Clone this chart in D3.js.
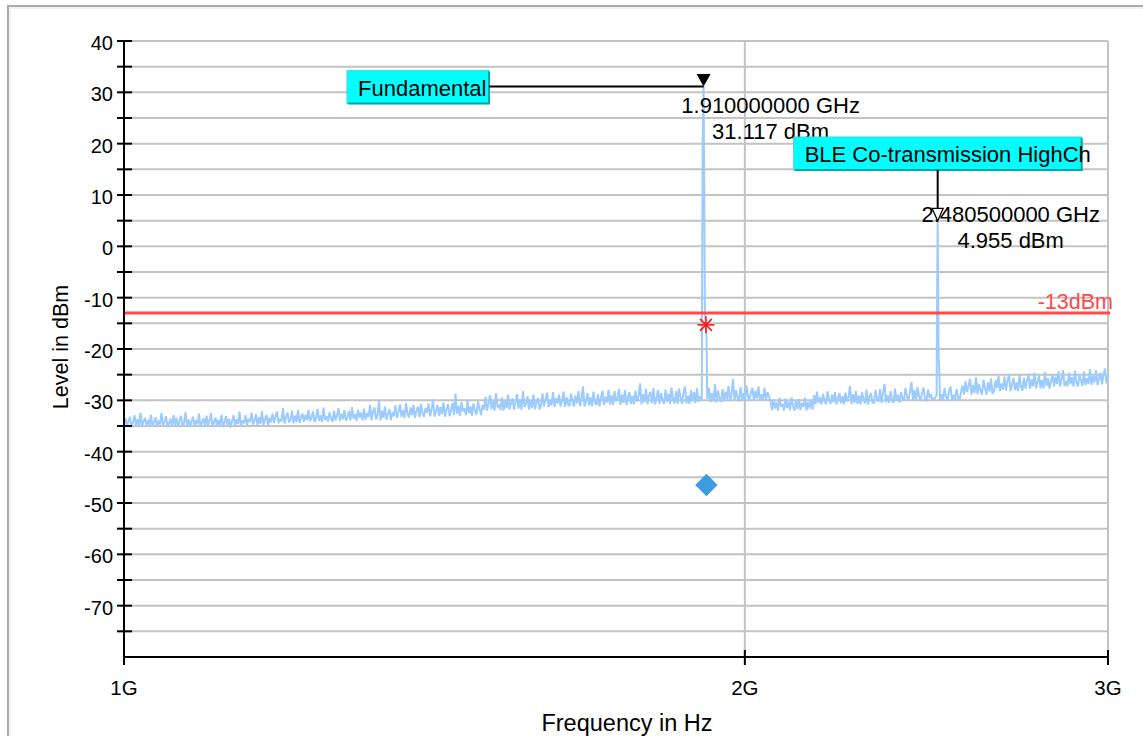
<!DOCTYPE html>
<html>
<head>
<meta charset="utf-8">
<script src="https://cdn.jsdelivr.net/npm/d3@7"></script>
<style>
  html, body { margin: 0; padding: 0; background: #fff; }
  svg { display: block; font-family: "Liberation Sans", Arial, Helvetica, sans-serif; }
</style>
</head>
<body>
<svg id="chart" width="1143" height="736"></svg>
<script>
// ---- Sweep settings (Hz) ----
const sweepStartHz = 1e9;
const sweepStopHz = 3e9;

// ---- Trace: noise floor levels (dBm), one per sweep point ----
const noiseFloorDbm = [
  -34.6, -33.5, -35.1, -34.0, -33.2, -35.2, -34.4, -32.9, -35.0, -33.7, -34.8, -32.4, -35.2, -34.1, -33.4, -35.0, -33.8, -34.9, -32.8, -35.1,
  -34.3, -33.3, -35.2, -33.9, -34.7, -32.5, -35.0, -34.2, -33.1, -35.2, -34.5, -33.6, -35.1, -32.9, -34.8, -33.4, -35.2, -34.0, -33.0, -35.1,
  -34.6, -32.3, -34.9, -33.7, -35.2, -34.1, -33.2, -35.0, -33.9, -34.7, -32.6, -35.2, -34.3, -33.5, -35.1, -33.0, -34.8, -34.0, -32.5, -35.2,
  -34.2, -33.4, -35.1, -33.8, -34.9, -32.8, -35.2, -34.3, -33.1, -34.8, -33.6, -35.3, -34.0, -32.9, -35.0, -33.7, -34.6, -32.2, -35.2, -33.9,
  -34.5, -32.9, -34.9, -33.6, -34.2, -32.4, -34.8, -33.9, -32.7, -34.9, -33.3, -34.6, -32.1, -34.8, -33.7, -32.8, -34.9, -33.4, -34.3, -32.6,
  -34.4, -33.1, -32.2, -34.5, -33.6, -34.1, -31.5, -34.5, -33.2, -32.4, -34.3, -33.8, -32.0, -34.5, -33.0, -34.2, -31.9, -34.4, -33.5, -32.6,
  -34.2, -32.8, -33.9, -31.8, -34.1, -33.3, -32.2, -34.2, -33.6, -31.7, -34.0, -32.9, -34.2, -31.4, -33.8, -33.1, -34.1, -32.3, -33.5, -34.2,
  -32.0, -33.9, -33.0, -31.5, -34.0, -32.6, -33.7, -31.9, -34.0, -33.2, -32.1, -33.9, -31.3, -33.6, -32.7, -34.0, -31.8, -33.4, -32.4, -33.9,
  -31.6, -33.8, -32.5, -33.2, -30.9, -33.9, -32.2, -31.4, -33.7, -32.8, -30.1, -33.9, -32.0, -33.4, -31.2, -33.8, -32.6, -31.7, -33.9, -32.3,
  -33.1, -31.0, -33.4, -32.3, -30.8, -33.2, -31.9, -33.4, -30.5, -32.7, -33.3, -31.4, -32.9, -30.9, -33.4, -32.1, -31.2, -33.3, -30.7, -32.6,
  -33.2, -31.5, -32.4, -30.6, -33.1, -31.9, -29.8, -33.2, -32.2, -30.9, -33.0, -31.3, -32.7, -30.4, -33.2, -31.8, -30.7, -33.1, -32.0, -30.5,
  -32.9, -28.7, -32.6, -31.1, -33.0, -30.3, -32.2, -31.6, -32.9, -30.0, -32.5, -31.2, -33.0, -30.6, -32.1, -32.8, -30.2, -31.7, -32.9, -30.9,
  -31.8, -29.3, -32.0, -30.6, -29.0, -31.7, -30.2, -32.0, -28.6, -31.4, -30.8, -31.9, -29.4, -32.0, -30.1, -31.5, -28.9, -31.8, -30.5, -29.6,
  -31.8, -30.4, -28.8, -31.6, -29.9, -31.8, -28.2, -31.3, -30.7, -29.2, -31.8, -30.0, -31.5, -28.9, -31.7, -30.3, -29.5, -31.8, -30.9, -28.7,
  -31.2, -29.8, -28.5, -31.3, -30.2, -31.0, -28.4, -31.3, -29.6, -30.6, -28.9, -31.2, -30.0, -28.3, -31.3, -29.4, -30.8, -31.1, -28.7, -30.3,
  -31.2, -29.1, -30.6, -28.2, -31.1, -29.7, -27.3, -31.2, -30.1, -28.6, -31.0, -29.4, -31.2, -28.3, -30.5, -30.9, -28.8, -31.2, -29.5, -28.1,
  -30.9, -29.3, -30.4, -27.9, -30.8, -29.0, -30.9, -28.2, -30.1, -29.6, -27.7, -30.9, -28.9, -30.5, -28.0, -30.9, -29.4, -28.4, -30.7, -29.1,
  -30.8, -28.1, -30.2, -29.3, -26.7, -30.8, -28.8, -30.4, -27.8, -30.8, -29.0, -28.3, -30.6, -27.6, -30.8, -29.5, -28.0, -30.7, -28.6, -29.9,
  -30.7, -27.9, -30.3, -28.7, -30.7, -27.5, -29.8, -30.6, -28.2, -30.7, -27.7, -29.4, -30.7, -28.5, -27.3, -30.6, -29.1, -30.7, -28.0, -30.2,
  -28.4, -30.5, -27.6, -30.3, -29.2, -30.0, -29.6, -29.8, -30.1, -29.7, -27.5, -30.4, -28.6, -30.2, -26.9, -30.4, -28.1, -29.6, -30.3, -27.8,
  -30.2, -28.3, -29.7, -27.2, -30.2, -28.9, -25.8, -30.1, -28.0, -29.5, -30.2, -27.4, -29.9, -28.6, -30.2, -27.1, -29.3, -30.0, -28.4, -27.6,
  -30.1, -28.1, -29.6, -27.3, -30.1, -28.8, -29.9, -27.5, -30.0, -28.4, -29.2, -30.1, -31.9, -29.8, -31.6, -30.4, -32.0, -29.5, -31.2, -30.7,
  -32.0, -29.6, -31.5, -30.2, -31.9, -29.4, -31.0, -32.0, -30.0, -31.7, -29.7, -31.9, -30.5, -31.3, -29.5, -32.0, -30.3, -31.6, -29.9, -31.8,
  -29.0, -30.8, -28.3, -30.5, -29.4, -30.8, -28.7, -30.1, -30.8, -28.2, -29.8, -30.7, -28.9, -30.4, -28.4, -30.8, -29.6, -28.6, -30.6, -29.2,
  -30.8, -28.5, -30.2, -29.4, -27.2, -30.8, -28.8, -30.5, -28.2, -30.7, -29.1, -30.8, -28.4, -29.8, -30.6, -27.9, -30.8, -29.3, -28.6, -30.4,
  -30.5, -28.0, -29.6, -30.3, -27.8, -30.5, -28.7, -26.8, -30.4, -29.0, -30.5, -28.2, -29.9, -30.5, -27.7, -30.1, -28.9, -30.5, -28.4, -29.5,
  -30.0, -27.6, -29.4, -30.0, -28.3, -26.4, -29.9, -28.0, -30.0, -27.4, -29.2, -30.0, -28.6, -27.5, -29.8, -30.0, -27.9, -29.5, -28.8, -30.0,
  -29.7, -29.4, -29.6, -29.8, -29.9, -28.8, -30.0, -27.6, -29.4, -30.0, -28.2, -27.3, -29.9, -28.9, -30.0, -27.8, -29.5, -30.0, -28.4, -27.1,
  -28.9, -26.3, -28.4, -27.2, -25.8, -28.9, -27.0, -28.6, -25.5, -28.8, -26.8, -28.1, -28.9, -26.0, -27.6, -28.9, -26.5, -28.3, -25.7, -28.7,
  -28.2, -26.1, -27.6, -25.2, -28.2, -26.7, -27.9, -25.4, -28.1, -26.3, -24.9, -28.2, -27.0, -25.6, -28.0, -26.5, -28.2, -25.1, -27.4, -28.1,
  -25.6, -27.7, -26.2, -24.8, -27.7, -25.9, -27.3, -24.6, -27.7, -26.4, -25.1, -27.6, -26.0, -27.7, -24.5, -27.2, -25.7, -27.7, -26.3, -24.9,
  -27.3, -25.4, -26.8, -24.3, -27.3, -25.9, -24.1, -27.2, -26.2, -27.3, -24.6, -26.9, -25.5, -27.3, -24.2, -26.6, -27.3, -25.0, -26.1, -27.2,
  -24.4, -27.0, -25.7, -26.8, -23.9, -27.0, -25.3, -26.5, -24.1, -27.0, -25.8, -24.6, -26.9, -25.1, -23.8, -26.7, -25.4
];

// ---- Trace: carrier peaks [Hz, dBm] ----
const fundamentalPeak = [
  [1.9062e9, -29.8], [1.9068e9, -10.0], [1.9080e9, 20.0], [1.9100e9, 31.117],
  [1.9115e9, 10.0], [1.9128e9, -13.0], [1.9140e9, -14.8], [1.9152e9, -15.6],
  [1.9162e9, -18.0], [1.9170e9, -23.0], [1.9176e9, -29.5]
];
const bleHighChPeak = [
  [2.4775e9, -29.0], [2.4790e9, -8.0], [2.4805e9, 4.955], [2.4818e9, -8.0],
  [2.4830e9, -21.5], [2.4845e9, -23.0], [2.4858e9, -26.0], [2.4866e9, -29.5]
];

// ---- Limit line ----
const limitLevelDbm = -13;
const limitLabel = "-13dBm";

// ---- Markers ----
const markerNames = ["Fundamental", "BLE Co-transmission HighCh"];
const markerFreqHz = [1.91e9, 2.4805e9];
const markerLevelDbm = [31.117, 4.955];
const markerFreqText = ["1.910000000 GHz", "2.480500000 GHz"];
const markerLevelText = ["31.117 dBm", "4.955 dBm"];

// ---- Limit-check result and measured point ----
const limitHit = [1.915e9, -15.3];
const measuredPoint = [1.916e9, -46.5];

// ---- Axes ----
const xTickValues = [1e9, 2e9, 3e9];
const xTickLabels = ["1G", "2G", "3G"];
const yTickValues = [40, 30, 20, 10, 0, -10, -20, -30, -40, -50, -60, -70];
const yTickLabels = ["40", "30", "20", "10", "0", "-10", "-20", "-30", "-40", "-50", "-60", "-70"];
const xTitle = "Frequency in Hz";
const yTitle = "Level in dBm";

// ================= drawing =================
const svg = d3.select("#chart");
const plot = { left: 124, right: 1108, top: 41, bottom: 657 };

const x = d3.scaleLog().domain([sweepStartHz, sweepStopHz]).range([plot.left, plot.right]);
const y = d3.scaleLinear().domain([-80, 40]).range([plot.bottom, plot.top]);

// outer frame
svg.append("rect")
  .attr("x", 8).attr("y", 6).attr("width", 1150).attr("height", 750)
  .attr("fill", "none").attr("stroke", "#ababab").attr("stroke-width", 2);
svg.append("rect")
  .attr("x", 10).attr("y", 8).attr("width", 1150).attr("height", 750)
  .attr("fill", "none").attr("stroke", "#e6e6e6").attr("stroke-width", 1);

// grid
const gridLevels = d3.range(-75, 40.1, 5);
svg.append("g").selectAll("line").data(gridLevels).join("line")
  .attr("x1", plot.left).attr("x2", plot.right)
  .attr("y1", d => y(d)).attr("y2", d => y(d))
  .attr("stroke", "#c3c3c3").attr("stroke-width", 2);
svg.append("g").selectAll("line").data(xTickValues.slice(1)).join("line")
  .attr("x1", d => x(d)).attr("x2", d => x(d))
  .attr("y1", plot.top).attr("y2", plot.bottom)
  .attr("stroke", "#c3c3c3").attr("stroke-width", 2);

// trace
const nPts = noiseFloorDbm.length;
const ratio = sweepStopHz / sweepStartHz;
const noisePts = noiseFloorDbm.map((v, i) => [sweepStartHz * Math.pow(ratio, i / (nPts - 1)), v]);
const peaks = [fundamentalPeak, bleHighChPeak];
const inPeak = f => peaks.some(p => f >= p[0][0] && f <= p[p.length - 1][0]);
const trace = noisePts.filter(d => !inPeak(d[0])).concat(...peaks).sort((a, b) => a[0] - b[0]);

svg.append("path")
  .datum(trace)
  .attr("fill", "none")
  .attr("stroke", "#9ccbff")
  .attr("stroke-width", 2)
  .attr("stroke-linejoin", "miter")
  .attr("stroke-miterlimit", 2)
  .attr("d", d3.line().x(d => x(d[0])).y(d => y(d[1])));

// limit line
svg.append("line")
  .attr("x1", plot.left).attr("x2", plot.right + 2)
  .attr("y1", y(limitLevelDbm)).attr("y2", y(limitLevelDbm))
  .attr("stroke", "#ff4a4a").attr("stroke-width", 3);
svg.append("text")
  .attr("x", plot.right + 5).attr("y", y(limitLevelDbm) - 4)
  .attr("text-anchor", "end")
  .attr("font-size", 21.5).attr("fill", "#ff4a4a")
  .text(limitLabel);

// limit-hit asterisk
(function () {
  const cx = x(limitHit[0]), cy = y(limitHit[1]), r = 8.5;
  const g = svg.append("g").attr("stroke", "#ff1a1a").attr("stroke-width", 1.6);
  [0, 45, 90, 135].forEach(a => {
    const t = a * Math.PI / 180;
    g.append("line")
      .attr("x1", cx - r * Math.cos(t)).attr("y1", cy - r * Math.sin(t))
      .attr("x2", cx + r * Math.cos(t)).attr("y2", cy + r * Math.sin(t));
  });
})();

// measured point (diamond)
svg.append("path")
  .attr("transform", `translate(${x(measuredPoint[0])},${y(measuredPoint[1])}) rotate(45)`)
  .attr("d", d3.symbol().type(d3.symbolSquare).size(250)())
  .attr("fill", "#3d9be0");

// y axis
const yAxis = svg.append("g");
yAxis.append("line")
  .attr("x1", plot.left).attr("x2", plot.left)
  .attr("y1", plot.top).attr("y2", plot.bottom + 8)
  .attr("stroke", "#000").attr("stroke-width", 2);
yAxis.selectAll("line.tick").data(d3.range(-75, 40.1, 5)).join("line")
  .attr("class", "tick")
  .attr("x1", plot.left - 7).attr("x2", plot.left + 8)
  .attr("y1", d => y(d)).attr("y2", d => y(d))
  .attr("stroke", "#000").attr("stroke-width", 2);
yAxis.selectAll("text").data(yTickValues).join("text")
  .attr("x", plot.left - 11).attr("y", d => y(d) + 9)
  .attr("text-anchor", "end").attr("font-size", 20).attr("fill", "#000")
  .text((d, i) => yTickLabels[i]);

// x axis
const xAxis = svg.append("g");
xAxis.append("line")
  .attr("x1", plot.left).attr("x2", plot.right)
  .attr("y1", plot.bottom).attr("y2", plot.bottom)
  .attr("stroke", "#000").attr("stroke-width", 2);
xAxis.selectAll("line.tick").data(xTickValues).join("line")
  .attr("class", "tick")
  .attr("x1", d => x(d)).attr("x2", d => x(d))
  .attr("y1", plot.bottom - 7).attr("y2", plot.bottom + 8)
  .attr("stroke", "#000").attr("stroke-width", 2);
xAxis.selectAll("text").data(xTickValues).join("text")
  .attr("x", d => x(d)).attr("y", 695)
  .attr("text-anchor", "middle").attr("font-size", 20.5).attr("fill", "#000")
  .text((d, i) => xTickLabels[i]);

// axis titles
svg.append("text")
  .attr("x", 627).attr("y", 731)
  .attr("text-anchor", "middle").attr("font-size", 23.5).attr("fill", "#000")
  .text(xTitle);
svg.append("text")
  .attr("transform", "translate(68,347) rotate(-90)")
  .attr("text-anchor", "middle").attr("font-size", 21.5).attr("fill", "#000")
  .text(yTitle);

// marker annotation boxes
function labelBox(bx, by, bw, bh, text) {
  const g = svg.append("g");
  g.append("rect").attr("x", bx).attr("y", by).attr("width", bw).attr("height", bh)
    .attr("fill", "#00ffff").attr("stroke", "#3fd6d6").attr("stroke-width", 1);
  g.append("path")
    .attr("d", `M${bx + 1},${by + bh} H${bx + bw} V${by + 1}`)
    .attr("fill", "none").attr("stroke", "#00a8a8").attr("stroke-width", 2);
  g.append("text").attr("x", bx + 11).attr("y", by + bh - 8)
    .attr("font-size", 22).attr("fill", "#000").text(text);
}
function markerText(mx, my, dx, dy, i) {
  svg.append("text").attr("x", mx + dx).attr("y", my + dy)
    .attr("text-anchor", "middle").attr("font-size", 22).attr("fill", "#000")
    .text(markerFreqText[i]);
  svg.append("text").attr("x", mx + dx).attr("y", my + dy + 25.5)
    .attr("text-anchor", "middle").attr("font-size", 22).attr("fill", "#000")
    .text(markerLevelText[i]);
}

// Marker 1: horizontal connector from box on the left, filled triangle
(function () {
  const mx = x(markerFreqHz[0]), my = y(markerLevelDbm[0]);
  labelBox(347, my - 16, 142, 33, markerNames[0]);
  svg.append("line").attr("x1", 489).attr("x2", mx).attr("y1", my).attr("y2", my)
    .attr("stroke", "#000").attr("stroke-width", 2);
  svg.append("path")
    .attr("d", `M${mx - 7},${my - 12.5} L${mx + 7},${my - 12.5} L${mx},${my} Z`)
    .attr("fill", "#000");
  markerText(mx, my, 67, 26.5, 0);
})();

// Marker 2: vertical connector from box above, hollow triangle
(function () {
  const mx = x(markerFreqHz[1]), my = y(markerLevelDbm[1]);
  labelBox(mx - 144, 137, 288, 33, markerNames[1]);
  svg.append("line").attr("x1", mx).attr("x2", mx).attr("y1", 170).attr("y2", my - 12.5)
    .attr("stroke", "#000").attr("stroke-width", 2);
  markerText(mx, my, 73, 1.5, 1);
  svg.append("path")
    .attr("d", `M${mx - 5.5},${my - 12.5} L${mx + 5.5},${my - 12.5} L${mx},${my} Z`)
    .attr("fill", "none").attr("stroke", "#000").attr("stroke-width", 1.3);
})();
</script>
</body>
</html>
